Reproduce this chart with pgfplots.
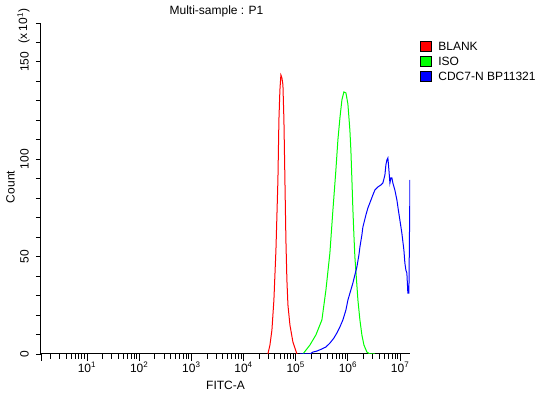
\documentclass[border=0pt]{standalone}
\usepackage{fontspec}
\setmainfont{Liberation Sans}
\usepackage{pgfplots}
\pgfplotsset{compat=1.18}
\usepackage{pgfplotstable}

% x = log10(FITC-A), c = count (x10)
\pgfplotstableread{
lx c
4.467 0
4.506 4.6
4.544 12.3
4.582 27.7
4.621 53.4
4.659 89.4
4.678 120.2
4.697 135.6
4.716 143.3
4.736 141.8
4.755 138.2
4.774 120.2
4.793 89.4
4.812 58.6
4.831 38.0
4.851 25.2
4.889 14.9
4.946 6.2
5.023 0
}\blank

\pgfplotstableread{
lx c
5.138 0
5.272 4.6
5.387 9.8
5.502 17.5
5.579 32.9
5.655 51.9
5.713 74.0
5.770 94.5
5.808 109.9
5.847 121.2
5.885 130.5
5.923 134.6
5.962 134.1
6.000 128.4
6.038 115.0
6.057 104.8
6.077 89.4
6.096 74.0
6.115 61.1
6.134 49.8
6.172 35.4
6.192 27.7
6.230 17.5
6.268 9.8
6.307 4.6
6.364 1.0
6.421 0
6.517 0
}\iso

\pgfplotstableread{
lx c
5.080 0
5.272 0
5.330 1.0
5.406 1.5
5.502 2.6
5.579 3.6
5.655 5.6
5.732 8.2
5.789 10.8
5.847 13.9
5.904 17.5
5.962 22.6
6.000 27.7
6.057 32.9
6.096 36.5
6.134 40.6
6.172 44.7
6.211 50.8
6.230 54.9
6.268 61.1
6.287 65.2
6.345 71.4
6.383 75.0
6.421 77.6
6.479 81.7
6.517 84.2
6.575 85.8
6.632 86.8
6.670 87.8
6.709 91.9
6.728 97.1
6.747 99.6
6.766 100.7
6.786 94.5
6.805 87.8
6.824 90.4
6.843 90.4
6.862 87.8
6.900 84.2
6.939 79.1
6.958 75.5
6.996 68.8
7.034 62.1
7.073 53.4
7.092 46.7
7.111 43.1
7.130 41.6
7.149 31.3
7.169 31.3
7.190 89.4
}\cdc

\begin{document}
\begin{tikzpicture}[font=\fontsize{12}{14}\selectfont]
\path[use as bounding box] (0pt,0pt) rectangle (547pt,393pt);
\begin{axis}[
  at={(41pt,39pt)}, anchor=south west,
  scale only axis, width=369pt, height=331pt,
  xmin=0.119, xmax=7.19, ymin=0, ymax=170,
  axis x line*=bottom, axis y line*=left,
  axis line style={black, line width=1pt, -},
  tick align=outside,
  major tick length=7pt, minor tick length=5pt,
  tick style={black, line width=0.9pt},
  xtick={1,2,3,4,5,6,7},
  xticklabels={10\textsuperscript{1},10\textsuperscript{2},10\textsuperscript{3},10\textsuperscript{4},10\textsuperscript{5},10\textsuperscript{6},10\textsuperscript{7}},
  minor xtick={0.301,0.477,0.602,0.699,0.778,0.845,0.903,0.954,
    1.301,1.477,1.602,1.699,1.778,1.845,1.903,1.954,
    2.301,2.477,2.602,2.699,2.778,2.845,2.903,2.954,
    3.301,3.477,3.602,3.699,3.778,3.845,3.903,3.954,
    4.301,4.477,4.602,4.699,4.778,4.845,4.903,4.954,
    5.301,5.477,5.602,5.699,5.778,5.845,5.903,5.954,
    6.301,6.477,6.602,6.699,6.778,6.845,6.903,6.954},
  extra x ticks={0.119}, extra x tick labels={},
  ytick={0,50,100,150}, yticklabels={0,50,100,150},
  minor ytick={0,10,...,170},
  every major y tick/.append style={draw=none},
  yticklabel shift=4pt,
  yticklabel style={rotate=90, anchor=south, inner sep=1pt, font=\fontsize{12}{14}\selectfont},
  xticklabel style={font=\fontsize{12}{14}\selectfont, inner sep=1pt},
  legend style={at={(1.0271,0.9456)}, anchor=north west, draw=none, fill=none,
    font=\fontsize{12}{14}\selectfont, inner sep=0pt, row sep=4pt,
    nodes={inner sep=0pt, text height=9pt, text depth=2pt},
    /tikz/column 1/.style={column sep=7pt}},
  legend cell align=left,
  legend image code/.code={\filldraw[#1, draw=black, line width=0.7pt] (0pt,-5pt) rectangle (10.5pt,5pt);},
]
\addplot[red, line width=1pt] table[x=lx, y=c] {\blank};
\addlegendentry{BLANK}
\addplot[green, line width=1pt] table[x=lx, y=c] {\iso};
\addlegendentry{ISO}
\addplot[blue, line width=1pt] table[x=lx, y=c] {\cdc};
\addlegendentry{CDC7-N BP11321}
\end{axis}
\node at (216.5pt,382pt) {Multi-sample : P1};
\node at (225.5pt,8pt) {FITC-A};
\node[rotate=90] at (10.5pt,206pt) {Count};
\node[rotate=90] at (23.5pt,367pt) {(x\,10\textsuperscript{1})};
\end{tikzpicture}
\end{document}
